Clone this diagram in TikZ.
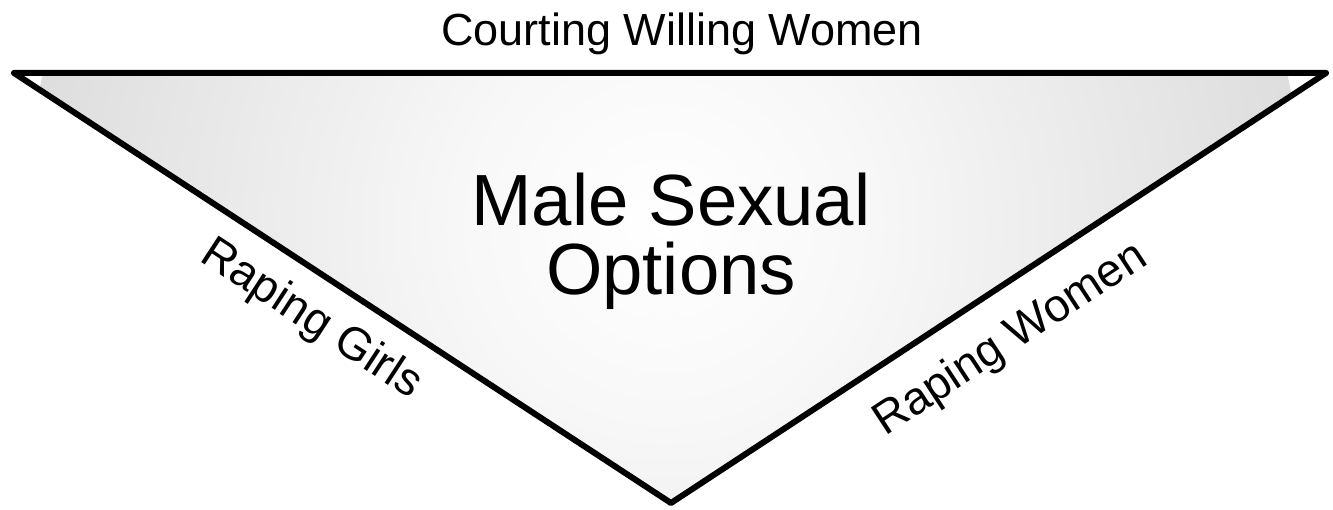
\documentclass[tikz,border=0pt]{standalone}
\usepackage{fontspec}
\setmainfont{Liberation Sans}
\pgfdeclareradialshading{triglow}{\pgfpoint{0bp}{0bp}}{color(0bp)=(white); color(8bp)=(white!97!black); color(50bp)=(black!28)}
\begin{document}
\begin{tikzpicture}[x=1pt,y=-1pt,
  lbl/.style={inner sep=0pt, font=\fontsize{46}{46}\selectfont},
  toplbl/.style={inner sep=0pt, font=\fontsize{45}{45}\selectfont},
  title/.style={inner sep=0pt, align=center, font=\fontsize{72.5}{69}\selectfont},
  edge/.style={line width=6pt, line join=round}]
\useasboundingbox (0,0) rectangle (1333,510);
\coordinate (tl) at (14,73);
\coordinate (tr) at (1326,73);
\coordinate (bt) at (671,503);
\begin{scope}
  \clip (tl) -- (tr) -- (bt) -- cycle;
  \shade[shading=triglow] (665,225) circle[radius=640];
\end{scope}
\draw[edge] (tl) -- (tr) -- (bt) -- cycle;
\node[toplbl, anchor=base] (top) at (682,46) {Courting Willing Women};
\node[title] (mso) at (671,241) {Male Sexual\\Options};
\node[lbl, rotate=-33.2] (girls) at (311,320) {Raping Girls};
\node[lbl, rotate=33.3] (women) at (1011,340) {Raping Women};
\end{tikzpicture}
\end{document}
